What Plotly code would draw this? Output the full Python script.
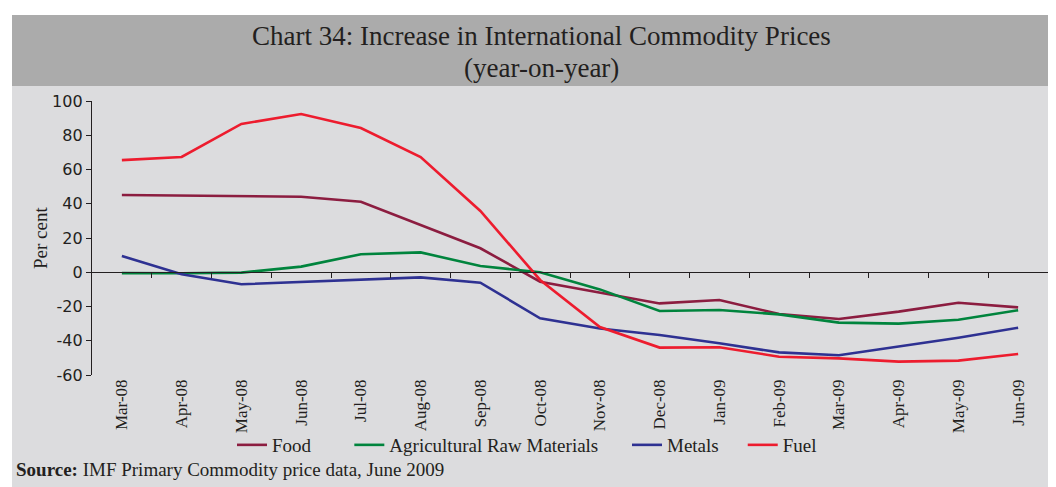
import plotly.graph_objects as go

categories = ["Mar-08", "Apr-08", "May-08", "Jun-08", "Jul-08", "Aug-08", "Sep-08", "Oct-08",
              "Nov-08", "Dec-08", "Jan-09", "Feb-09", "Mar-09", "Apr-09", "May-09", "Jun-09"]
food = [45.1, 44.9, 44.7, 44.1, 41.2, 27.6, 14.0, -5.5, -12.0, -18.2, -16.2, -24.4, -27.3, -23.0, -17.8, -20.5]
agri = [-0.5, -0.6, -0.2, 3.3, 10.5, 11.6, 3.6, 0.0, -10.0, -22.6, -22.0, -24.6, -29.4, -30.0, -27.7, -22.2]
metals = [9.5, -1.2, -7.0, -5.7, -4.3, -3.0, -6.1, -26.9, -32.8, -36.6, -41.5, -46.8, -48.5, -43.5, -38.2, -32.4]
fuel = [65.5, 67.3, 86.6, 92.4, 84.2, 67.3, 35.8, -4.5, -32.0, -44.0, -43.8, -49.3, -50.3, -52.2, -51.6, -47.7]
y_ticks = [100, 80, 60, 40, 20, 0, -20, -40, -60]
y_tick_text = ["100", "80", "60", "40", "20", "0", "-20", "-40", "-60"]
series_names = ["Food", "Agricultural Raw Materials", "Metals", "Fuel"]

NB = "\u00a0"
legend_pad = [7, 5, 4, 0]  # trailing spaces to mimic the reference legend spacing
series = list(zip(series_names, [food, agri, metals, fuel],
                  ["#8c1d40", "#00843d", "#2e3192", "#ed1c2e"], legend_pad))

OFF = 8  # page body margin
W, H = 1056 - OFF, 487 - OFF
ML, MR, MT, MB = 92 - OFF, 8, 101 - OFF, 112
PW, PH = W - ML - MR, H - MT - MB

def px(x):  # x given in reference-image pixels
    return (x - OFF - ML) / PW

def py(y):
    return (H - MB - (y - OFF)) / PH

serif = "Liberation Serif"
sans = "DejaVu Sans"
ink = "#231f20"

fig = go.Figure()
for name, vals, color, pad in series:
    fig.add_trace(go.Scatter(x=categories, y=vals, name=name + NB * pad, mode="lines",
                             line=dict(color=color, width=2.6)))

n = len(categories)
fig.add_trace(go.Scatter(x=[0, n - 1], y=[None, None], xaxis="x2", showlegend=False,
                         hoverinfo="skip", mode="lines"))

fig.update_layout(
    width=W, height=H,
    margin=dict(l=ML, r=MR, t=MT, b=MB),
    paper_bgcolor="white",
    plot_bgcolor="rgba(0,0,0,0)",
    showlegend=True,
    legend=dict(orientation="h", x=px(232), xanchor="left", y=py(445), yanchor="middle",
                font=dict(family=serif, size=19, color=ink), bgcolor="rgba(0,0,0,0)",
                itemwidth=30, tracegroupgap=0),
    xaxis=dict(type="category", range=[-0.5, n - 0.5], showgrid=False, zeroline=False,
               showline=False, ticks="", tickangle=-90,
               tickfont=dict(family=serif, size=17, color=ink)),
    xaxis2=dict(overlaying="x", anchor="free", position=(0 - (-60)) / 160, side="bottom",
                range=[-0.5, n - 0.5], showgrid=False, zeroline=False, showline=True,
                linecolor=ink, linewidth=1.3, ticks="outside", ticklen=5,
                tickcolor=ink, tickwidth=1.2, showticklabels=False,
                tickvals=[i + 0.5 for i in range(n)]),
    yaxis=dict(range=[-60, 100], tickvals=y_ticks, ticktext=y_tick_text, showgrid=False,
               zeroline=False, showline=True, linecolor=ink, linewidth=1.3, ticks="outside",
               ticklen=5, tickcolor=ink, tickwidth=1.2,
               tickfont=dict(family=sans, size=16, color=ink)),
    shapes=[
        dict(type="rect", xref="paper", yref="paper", x0=px(12), x1=px(1056), y0=py(487), y1=py(86),
             fillcolor="#dcdcde", line=dict(width=0), layer="below"),
        dict(type="rect", xref="paper", yref="paper", x0=px(12), x1=px(1056), y0=py(86), y1=py(15),
             fillcolor="#ababab", line=dict(width=0), layer="below"),
    ],
    annotations=[
        dict(text="Chart 34: Increase in International Commodity Prices", xref="paper", yref="paper",
             x=px(541), y=py(36), xanchor="center", yanchor="middle", showarrow=False,
             font=dict(family=serif, size=27, color=ink)),
        dict(text="(year-on-year)", xref="paper", yref="paper",
             x=px(541), y=py(68), xanchor="center", yanchor="middle", showarrow=False,
             font=dict(family=serif, size=27, color=ink)),
        dict(text="Per cent", xref="paper", yref="paper", x=px(40), y=py(238),
             xanchor="center", yanchor="middle", textangle=-90, showarrow=False,
             font=dict(family=serif, size=19, color=ink)),
        dict(text="<b>Source:</b> IMF Primary Commodity price data, June 2009", xref="paper",
             yref="paper", x=px(14), y=py(469), xanchor="left", yanchor="middle",
             showarrow=False, font=dict(family=serif, size=19, color=ink)),
    ],
)

fig.write_html("out.html")
